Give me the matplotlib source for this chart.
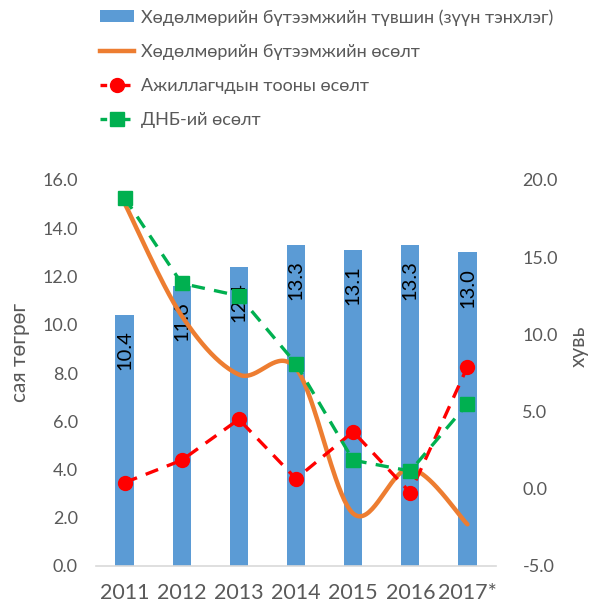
import numpy as np
import matplotlib
matplotlib.use("Agg")
import matplotlib.pyplot as plt
from matplotlib.lines import Line2D
from matplotlib.patches import Patch

plt.rcParams['font.family'] = ['Lato', 'DejaVu Sans']

years = ["2011", "2012", "2013", "2014", "2015", "2016", "2017*"]
productivity_level = [10.4, 11.6, 12.4, 13.3, 13.1, 13.3, 13.0]
productivity_growth = [18.5, 11.2, 7.4, 7.8, -1.6, 1.3, -2.3]
employment_growth = [0.4, 1.85, 4.5, 0.65, 3.7, -0.25, 7.9]
gdp_growth = [18.85, 13.3, 12.5, 8.1, 1.85, 1.15, 5.5]

legend_labels = ["Хөдөлмөрийн бүтээмжийн түвшин (зүүн тэнхлэг)",
                 "Хөдөлмөрийн бүтээмжийн өсөлт",
                 "Ажиллагчдын тооны өсөлт",
                 "ДНБ-ий өсөлт"]

c_bar = '#5B9BD5'
c_orange = '#ED7D31'
c_red = '#FF0000'
c_green = '#00B050'
c_text = '#595959'


def excel_smooth(xs, ys, n=40):
    xs = np.asarray(xs, float)
    ys = np.asarray(ys, float)
    P = np.column_stack([xs, ys])
    m = len(P)
    out = []
    for i in range(m - 1):
        p0 = P[i - 1] if i > 0 else P[i]
        p1 = P[i]
        p2 = P[i + 1]
        p3 = P[i + 2] if i + 2 < m else P[i + 1]
        c1 = p1 + (p2 - p0) / 6.0
        c2 = p2 - (p3 - p1) / 6.0
        t = np.linspace(0, 1, n)[:, None]
        seg = ((1 - t) ** 3) * p1 + 3 * ((1 - t) ** 2) * t * c1 + 3 * (1 - t) * t ** 2 * c2 + t ** 3 * p2
        out.append(seg if i == 0 else seg[1:])
    out = np.vstack(out)
    return out[:, 0], out[:, 1]


fig = plt.figure(figsize=(5.89, 6.02), dpi=100)
ax = fig.add_axes([96 / 589, 1 - 566 / 602, 400 / 589, 386 / 602])
x = np.arange(len(years))

bars = ax.bar(x, productivity_level, width=0.32, color=c_bar, zorder=2)
for xi, v in zip(x, productivity_level):
    ax.annotate(f"{v:.1f}", (xi, v), xytext=(0, -11), textcoords='offset points',
                rotation=90, ha='center', va='top', fontsize=14.5, color='black', zorder=3)

ax.set_xlim(-0.5, len(years) - 0.5)
ax.set_ylim(0, 16)
ax.set_yticks(np.arange(0, 16.1, 2))
ax.set_yticklabels([f"{v:.1f}" for v in np.arange(0, 16.1, 2)])
ax.set_xticks(x)
ax.set_xticklabels(years)
ax.tick_params(axis='x', length=0, labelsize=15.5, colors=c_text, pad=12)
ax.tick_params(axis='y', length=0, labelsize=13, colors=c_text, pad=13)
for s in ['top', 'left', 'right']:
    ax.spines[s].set_visible(False)
ax.spines['bottom'].set_color('#D9D9D9')
ax.spines['bottom'].set_linewidth(1.2)

ax2 = ax.twinx()
ax2.set_ylim(-5, 20)
ax2.set_yticks(np.arange(-5, 20.1, 5))
ax2.set_yticklabels([f"{v:.1f}" for v in np.arange(-5, 20.1, 5)])
ax2.tick_params(axis='y', length=0, labelsize=13, colors=c_text, pad=19)
for s in ['top', 'left', 'right', 'bottom']:
    ax2.spines[s].set_visible(False)

sx, sy = excel_smooth(x, productivity_growth)
ax2.plot(sx, sy, color=c_orange, lw=3.2, solid_capstyle='round', zorder=3)
ax2.plot(x, employment_growth, color=c_red, lw=2.4, ls=(0, (4, 2.8)),
         marker='o', ms=10, mfc=c_red, mec=c_red, zorder=4)
ax2.plot(x, gdp_growth, color=c_green, lw=2.4, ls=(0, (4, 2.8)),
         marker='s', ms=9.5, mfc=c_green, mec=c_green, zorder=4)

fig.text(20 / 589, 1 - 352 / 602, "сая төгрөг", rotation=90, ha='center', va='center',
         fontsize=15, color=c_text)
fig.text(579 / 589, 1 - 346 / 602, "хувь", rotation=90, ha='center', va='center',
         fontsize=15, color=c_text)

handles = [Patch(facecolor=c_bar, edgecolor='none'),
           Line2D([], [], color=c_orange, lw=3.2),
           Line2D([], [], color=c_red, lw=2.4, ls=(0, (2, 1.5)), marker='o', ms=10, markevery=[0]),
           Line2D([], [], color=c_green, lw=2.4, ls=(0, (2, 1.5)), marker='s', ms=9.5, markevery=[0])]
leg = fig.legend(handles, legend_labels, loc='upper left',
                 bbox_to_anchor=(100 / 589, 1 - 9 / 602), frameon=False,
                 fontsize=13, handlelength=1.9, handleheight=0.6, handletextpad=0.35,
                 labelspacing=1.0, borderpad=0, borderaxespad=0)
for t in leg.get_texts():
    t.set_color(c_text)

fig.savefig("out.png", dpi=100)
